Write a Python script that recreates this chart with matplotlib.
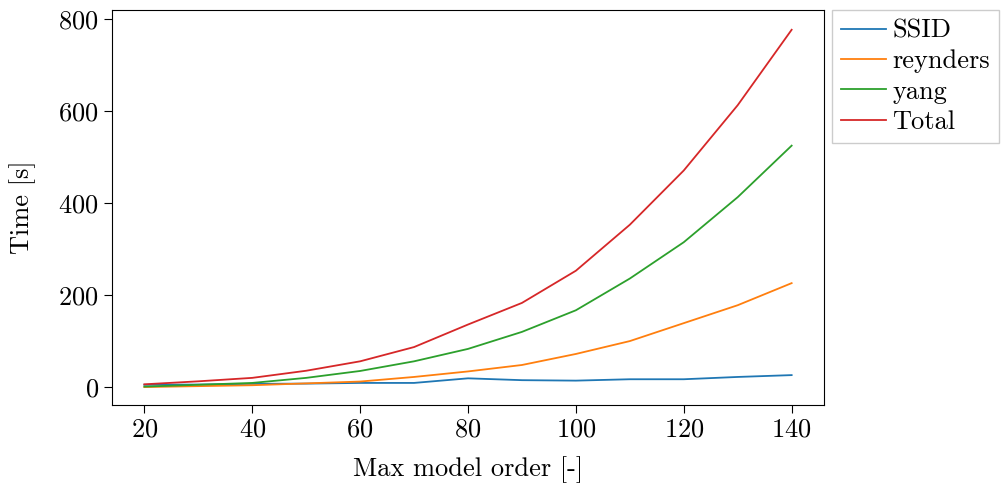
import matplotlib
matplotlib.use("Agg")
import matplotlib.pyplot as plt

plt.rcParams['font.family'] = ['cmr10', 'DejaVu Serif']
plt.rcParams['mathtext.fontset'] = 'cm'
plt.rcParams['axes.formatter.use_mathtext'] = True
plt.rcParams['font.size'] = 19

orders = [20, 30, 40, 50, 60, 70, 80, 90, 100, 110, 120, 130, 140]
ssid = [5, 5.5, 7, 7.5, 9, 9, 19, 15, 14, 17, 17, 22, 26]
reynders = [0, 2, 4, 8, 12, 22, 34, 48, 72, 100, 139, 178, 226]
yang = [1, 5, 9, 20, 35, 56, 83, 120, 167, 236, 315, 413, 525]
total = [s + r + y for s, r, y in zip(ssid, reynders, yang)]

fig = plt.figure(figsize=(10.04, 4.92), dpi=100)
ax = fig.add_axes([112/1004, 1 - 405/492, (824-112)/1004, (405-10)/492])
ax.plot(orders, ssid, color='#1f77b4', lw=1.3, label='SSID')
ax.plot(orders, reynders, color='#ff7f0e', lw=1.3, label='reynders')
ax.plot(orders, yang, color='#2ca02c', lw=1.3, label='yang')
ax.plot(orders, total, color='#d62728', lw=1.3, label='Total')

ax.set_xlim(14, 146)
ax.set_ylim(-39, 820)
ax.set_xticks([20, 40, 60, 80, 100, 120, 140])
ax.set_yticks([0, 200, 400, 600, 800])
ax.set_xlabel('Max model order [-]', labelpad=10)
ax.set_ylabel('Time [s]', labelpad=16)
ax.tick_params(direction='out', length=6, width=0.8)

leg = ax.legend(loc='upper left', bbox_to_anchor=(1.011, 1.0), fancybox=False,
                fontsize=19, handlelength=1.7, handletextpad=0.25, borderaxespad=0.0,
                labelspacing=0.25, borderpad=0.35, edgecolor='#cccccc', framealpha=1)

fig.savefig('out.png', dpi=100)
